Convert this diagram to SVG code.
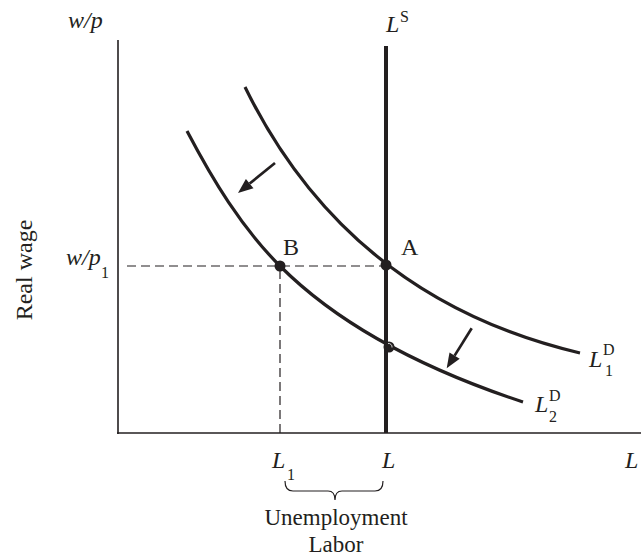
<svg xmlns="http://www.w3.org/2000/svg" width="641" height="558" viewBox="0 0 641 558">
<style>
.t{font-family:"Liberation Serif","Times New Roman",serif;fill:#231f20;font-size:24px}
.i{font-style:italic}
.s{font-size:16px;font-style:normal}
.cap{font-size:23px}
.curve{fill:none;stroke:#231f20;stroke-width:3.2}
.axis{fill:none;stroke:#231f20;stroke-width:1.6}
.dash{fill:none;stroke:#231f20;stroke-width:1.2;stroke-dasharray:9,5}
.arr{fill:none;stroke:#231f20;stroke-width:2.7}
.head{fill:#231f20}
</style>
<rect width="641" height="558" fill="#fff"/>
<g id="axes">
<line class="axis" x1="118" y1="40" x2="118" y2="434"/>
<line class="axis" x1="117" y1="433" x2="641" y2="433"/>
</g>
<g id="connectors">
<line class="dash" x1="127" y1="266" x2="386" y2="266"/>
<line class="dash" x1="280" y1="270" x2="280" y2="433"/>
<line x1="386" y1="46" x2="386" y2="433" stroke="#231f20" stroke-width="4"/>
<path id="LD1" class="curve" d="M245,87 C320,240 440,320 580,353"/>
<path id="LD2" class="curve" d="M187,131 C212.6,179.7 241,227 280,266 C344,330 434.7,372.9 523,402"/>
<line class="arr" x1="275" y1="163" x2="249.7" y2="183.5"/>
<polygon class="head" points="238,193 253.5,188.2 245.9,178.9"/>
<line class="arr" x1="471.7" y1="328.3" x2="454.6" y2="355.6"/>
<polygon class="head" points="446.7,368.3 459.7,358.8 449.5,352.4"/>
<path d="M285,481 q0,10 8,10 h35 q7,0 7,9 q0,-9 7,-9 h33 q8,0 8,-10" fill="none" stroke="#231f20" stroke-width="1.2"/>
</g>
<g id="pointB"><circle cx="280" cy="266" r="5.5" fill="#231f20"/></g>
<g id="pointA"><circle cx="386" cy="265" r="5.5" fill="#231f20"/></g>
<g id="pointC"><circle cx="389" cy="347" r="5.5" fill="#231f20"/><path d="M388,343.5 a3.5,3.5 0 0 1 4,4" fill="none" stroke="#fff" stroke-width="0.8"/></g>
<g id="labels">
<text class="t i" x="68" y="28">w/p</text>
<text class="t i" x="386" y="32">L</text>
<text class="t s" x="400" y="22">S</text>
<text class="t i" x="66" y="265">w/p</text>
<text class="t s" x="101" y="278">1</text>
<text class="t" x="283" y="255">B</text>
<text class="t" x="401" y="255">A</text>
<text class="t i" x="589" y="367">L</text>
<text class="t s" x="603" y="355">D</text>
<text class="t s" x="605" y="376">1</text>
<text class="t i" x="535" y="412">L</text>
<text class="t s" x="549" y="401">D</text>
<text class="t s" x="549" y="422">2</text>
<text class="t i" x="272" y="468">L</text>
<text class="t s" x="287" y="480">1</text>
<text class="t i" x="382" y="468">L</text>
<text class="t i" x="625" y="468">L</text>
<text class="t cap" x="336" y="525" text-anchor="middle">Unemployment</text>
<text class="t cap" x="336" y="552" text-anchor="middle">Labor</text>
<text class="t" transform="translate(32,270) rotate(-90)" text-anchor="middle">Real wage</text>
</g>
</svg>
